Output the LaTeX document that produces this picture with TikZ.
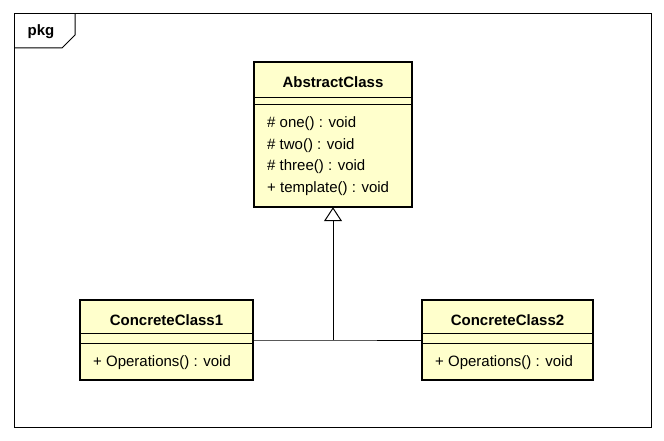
\documentclass[tikz,border=0pt]{standalone}
\usepackage{fontspec}
\setmainfont{Liberation Sans}
\usetikzlibrary{arrows.meta}
\tikzset{
  classbox/.style={draw, line width=2.6pt, fill=classfill},
  classname/.style={font=\fontsize{15}{17}\selectfont\bfseries, inner sep=0pt},
  member/.style={font=\fontsize{15}{17}\selectfont, inner sep=0pt, anchor=west},
  inherit/.style={-{Triangle[open, width=18pt, length=14pt]}, line width=1pt},
}
\definecolor{classfill}{RGB}{255,255,204}
\begin{document}
\begin{tikzpicture}[x=1pt, y=-1pt]
\useasboundingbox (0,0) rectangle (664,441);
% package frame
\draw[line width=1pt] (14,14) rectangle (651,427);
\draw[line width=1pt] (14,48) -- (62,48) -- (75,35) -- (75,14);
\node[font=\fontsize{15}{17}\selectfont\bfseries, inner sep=0pt] (pkg) at (41,32) {pkg};
% AbstractClass
\draw[classbox] (254,62) rectangle (412,207);
\node (abs) at (333,134.5) [minimum width=158pt, minimum height=145pt, inner sep=0pt] {};
\node[classname] (absname) at (333,82) {AbstractClass};
\draw[line width=1pt] (254,98) -- (412,98);
\draw[line width=1pt] (254,105) -- (412,105);
\node[member] (one) at (267,124) {\# one() : void};
\node[member] (two) at (267,146) {\# two() : void};
\node[member] (three) at (267,167) {\# three() : void};
\node[member] (tmpl) at (267,189) {+ template() : void};
% ConcreteClass1
\draw[classbox] (80,300) rectangle (253,380);
\node (cc1) at (166.5,340) [minimum width=173pt, minimum height=80pt, inner sep=0pt] {};
\node[classname] (cc1name) at (166.5,320) {ConcreteClass1};
\draw[line width=1pt] (80,333) -- (253,333);
\draw[line width=1pt] (80,343) -- (253,343);
\node[member] (cc1op) at (93,363) {+ Operations() : void};
% ConcreteClass2
\draw[classbox] (422,300) rectangle (593,380);
\node (cc2) at (507.5,340) [minimum width=171pt, minimum height=80pt, inner sep=0pt] {};
\node[classname] (cc2name) at (507.5,320) {ConcreteClass2};
\draw[line width=1pt] (422,333) -- (593,333);
\draw[line width=1pt] (422,343) -- (593,343);
\node[member] (cc2op) at (435,363) {+ Operations() : void};
% generalization
\coordinate (join) at (333,340);
\draw[line width=1pt] (cc1.east) -- (join) -- (cc2.west);
\draw[inherit] (join) -- (abs.south);
\end{tikzpicture}
\end{document}
